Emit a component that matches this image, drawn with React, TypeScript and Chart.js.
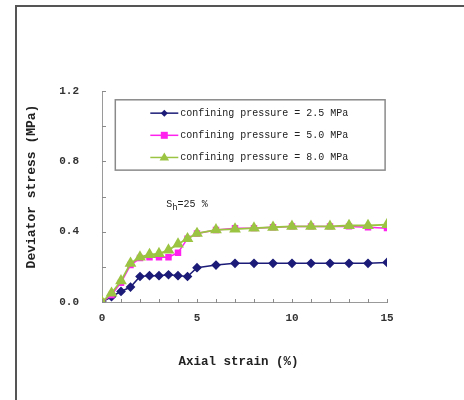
import React, { useEffect, useRef } from "react";
import { Chart, registerables } from "chart.js";

Chart.register(...registerables);

const strain = [0, 0.5, 1, 1.5, 2, 2.5, 3, 3.5, 4, 4.5, 5, 6, 7, 8, 9, 10, 11, 12, 13, 14, 15];
const stress25 = [0, 0.03, 0.06, 0.085, 0.145, 0.15, 0.15, 0.155, 0.15, 0.145, 0.195, 0.21, 0.22, 0.22, 0.22, 0.22, 0.22, 0.22, 0.22, 0.22, 0.225];
const stress50 = [0, 0.04, 0.11, 0.21, 0.25, 0.255, 0.255, 0.255, 0.28, 0.36, 0.39, 0.41, 0.42, 0.42, 0.425, 0.43, 0.43, 0.43, 0.43, 0.425, 0.42];
const stress80 = [0, 0.05, 0.12, 0.22, 0.255, 0.27, 0.275, 0.295, 0.33, 0.36, 0.39, 0.41, 0.415, 0.42, 0.425, 0.43, 0.43, 0.43, 0.435, 0.435, 0.44];
const seriesLabels = [
  "confining pressure = 2.5 MPa",
  "confining pressure = 5.0 MPa",
  "confining pressure = 8.0 MPa",
];
const xTitle = "Axial strain (%)";
const yTitle = "Deviator stress (MPa)";
const annotation = { main: "S", sub: "h", rest: "=25 %" };

const MONO = "'Liberation Mono', 'DejaVu Sans Mono', monospace";
const BLUE = "#1c1c78";
const MAGENTA = "#ff22ee";
const GREEN = "#9cc443";

function drawMarker(ctx: CanvasRenderingContext2D, style: string, x: number, y: number, r: number, color: string) {
  ctx.save();
  ctx.fillStyle = color;
  ctx.beginPath();
  if (style === "rectRot") {
    ctx.moveTo(x, y - r);
    ctx.lineTo(x + r, y);
    ctx.lineTo(x, y + r);
    ctx.lineTo(x - r, y);
  } else if (style === "rect") {
    ctx.rect(x - r, y - r, 2 * r, 2 * r);
  } else {
    ctx.moveTo(x, y - r);
    ctx.lineTo(x + r * 0.95, y + r * 0.6);
    ctx.lineTo(x - r * 0.95, y + r * 0.6);
  }
  ctx.closePath();
  ctx.fill();
  ctx.restore();
}

const overlayPlugin = {
  id: "overlay",
  afterDraw(chart: any) {
    const ctx: CanvasRenderingContext2D = chart.ctx;
    const xs = chart.scales.x;
    const ys = chart.scales.y;
    const area = chart.chartArea;
    ctx.save();
    // inward tick marks
    ctx.strokeStyle = "#8a8a8a";
    ctx.lineWidth = 1;
    ys.ticks.forEach((tk: any) => {
      const py = Math.round(ys.getPixelForValue(tk.value)) + 0.5;
      ctx.beginPath();
      ctx.moveTo(area.left, py);
      ctx.lineTo(area.left + 4, py);
      ctx.stroke();
    });
    xs.ticks.forEach((tk: any) => {
      const px = Math.round(xs.getPixelForValue(tk.value)) + 0.5;
      ctx.beginPath();
      ctx.moveTo(px, area.bottom - 3);
      ctx.lineTo(px, area.bottom + 1);
      ctx.stroke();
    });

    // axis titles
    ctx.fillStyle = "#222";
    ctx.font = `bold 12.5px ${MONO}`;
    ctx.textAlign = "center";
    ctx.textBaseline = "middle";
    ctx.fillText(xTitle, (area.left + area.right) / 2 - 6, area.bottom + 60);
    ctx.save();
    ctx.translate(area.left - 70, (area.top + area.bottom) / 2 - 10);
    ctx.rotate(-Math.PI / 2);
    ctx.font = `bold 13px ${MONO}`;
    ctx.fillText(yTitle, 0, 0);
    ctx.restore();

    // legend box
    const l = xs.getPixelForValue(0.7);
    const r = xs.getPixelForValue(14.9);
    const t = ys.getPixelForValue(1.15);
    const b = ys.getPixelForValue(0.75);
    ctx.fillStyle = "#ffffff";
    ctx.fillRect(l, t, r - l, b - t);
    ctx.strokeStyle = "#8a8a8a";
    ctx.lineWidth = 1.5;
    ctx.strokeRect(l, t, r - l, b - t);
    const styles = ["rectRot", "rect", "triangle"];
    const radii = [3.5, 3.5, 5];
    const colors = [BLUE, MAGENTA, GREEN];
    const h = b - t;
    seriesLabels.forEach((lab, i) => {
      const yy = t + h * (0.19 + i * 0.315);
      const x1 = l + 35;
      const x2 = l + 63;
      ctx.strokeStyle = colors[i];
      ctx.lineWidth = 1.5;
      ctx.beginPath();
      ctx.moveTo(x1, yy);
      ctx.lineTo(x2, yy);
      ctx.stroke();
      drawMarker(ctx, styles[i], (x1 + x2) / 2, yy, radii[i], colors[i]);
      ctx.fillStyle = "#222";
      ctx.font = `10px ${MONO}`;
      ctx.textAlign = "left";
      ctx.textBaseline = "middle";
      ctx.fillText(lab, x2 + 2, yy);
    });

    // annotation
    const ax = xs.getPixelForValue(3.38);
    const ay = ys.getPixelForValue(0.555);
    ctx.fillStyle = "#222";
    ctx.textAlign = "left";
    ctx.textBaseline = "middle";
    ctx.font = `10px ${MONO}`;
    ctx.fillText(annotation.main, ax, ay);
    const w1 = ctx.measureText(annotation.main).width;
    ctx.font = `9px ${MONO}`;
    ctx.fillText(annotation.sub, ax + w1, ay + 3);
    const w2 = ctx.measureText(annotation.sub).width;
    ctx.font = `10px ${MONO}`;
    ctx.fillText(annotation.rest, ax + w1 + w2, ay);
    ctx.restore();
  },
};

export default function App() {
  const ref = useRef<HTMLCanvasElement>(null);
  useEffect(() => {
    if (!ref.current) return;
    const mk = (arr: number[]) => strain.map((x, i) => ({ x, y: arr[i] }));
    const chart = new Chart(ref.current, {
      type: "line",
      data: {
        datasets: [
          {
            label: seriesLabels[0],
            data: mk(stress25),
            borderColor: BLUE,
            backgroundColor: BLUE,
            pointStyle: "rectRot",
            pointRadius: 3.8,
            borderWidth: 1.5,
            order: 2,
          },
          {
            label: seriesLabels[1],
            data: mk(stress50),
            borderColor: MAGENTA,
            backgroundColor: MAGENTA,
            pointStyle: "rect",
            pointRadius: 3.5,
            borderWidth: 1.5,
            order: 1,
          },
          {
            label: seriesLabels[2],
            data: mk(stress80),
            borderColor: GREEN,
            backgroundColor: GREEN,
            pointStyle: "triangle",
            pointRadius: 5,
            borderWidth: 1.8,
            order: 0,
          },
        ],
      },
      options: {
        animation: false,
        responsive: false,
        maintainAspectRatio: false,
        layout: { padding: { left: 0, right: 77, top: 91, bottom: 0 } },
        plugins: {
          legend: { display: false },
          tooltip: { enabled: false },
        },
        elements: { point: { borderWidth: 0 }, line: { tension: 0 } },
        scales: {
          x: {
            type: "linear",
            min: 0,
            max: 15,
            afterFit: (s: any) => {
              s.height = 98;
            },
            border: { display: true, color: "#9a9a9a", width: 1 },
            grid: { display: false },
            ticks: {
              stepSize: 1,
              autoSkip: false,
              maxRotation: 0,
              padding: 2,
              color: "#333",
              font: { family: MONO, size: 11, weight: "bold" },
              callback: (v: any) => (Number(v) % 5 === 0 ? String(v) : ""),
            },
          },
          y: {
            min: 0,
            max: 1.2,
            afterFit: (s: any) => {
              s.width = 102;
            },
            border: { display: true, color: "#9a9a9a", width: 1 },
            grid: { display: false },
            ticks: {
              stepSize: 0.2,
              autoSkip: false,
              padding: 15,
              color: "#333",
              font: { family: MONO, size: 11, weight: "bold" },
              callback: (v: any) => {
                const n = Math.round(Number(v) * 10);
                return n % 4 === 0 ? (n / 10).toFixed(1) : "";
              },
            },
          },
        },
      },
      plugins: [overlayPlugin],
    });
    return () => chart.destroy();
  }, []);
  return (
    <div style={{ position: "fixed", left: 0, top: 0, width: 464, height: 400, background: "#fff" }}>
      <canvas ref={ref} width={464} height={400} style={{ position: "absolute", left: 0, top: 0 }} />
      <div
        style={{
          position: "absolute",
          left: 15,
          top: 5,
          width: 449,
          height: 395,
          borderTop: "2px solid #555",
          borderLeft: "2px solid #555",
          boxSizing: "border-box",
          pointerEvents: "none",
        }}
      />
    </div>
  );
}
